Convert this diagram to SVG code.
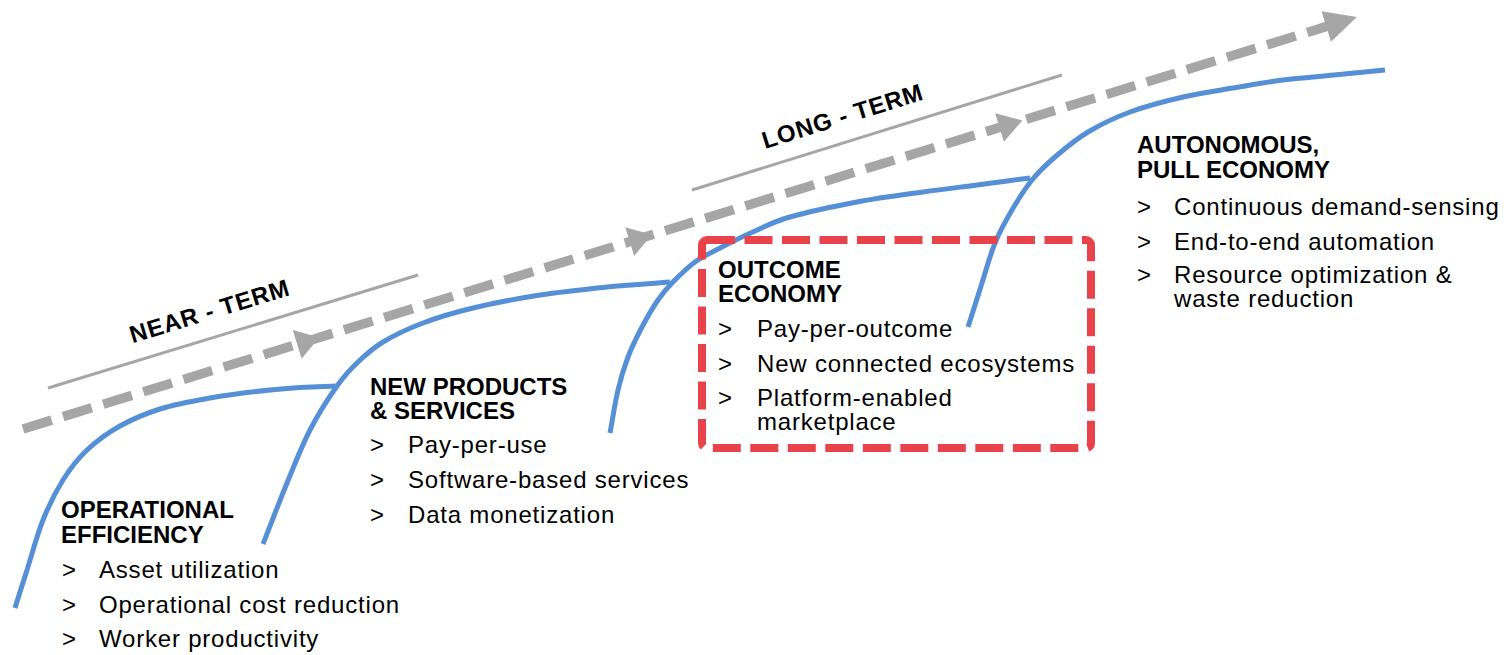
<svg xmlns="http://www.w3.org/2000/svg" width="1510" height="655" viewBox="0 0 1510 655">
<style>
  text { font-family: "Liberation Sans", Arial, sans-serif; fill: #000; }
  .h { font-size: 24px; font-weight: bold; }
  .b { font-size: 24px; letter-spacing: 0.8px; }
  .lbl { font-size: 24px; font-weight: bold; letter-spacing: 0.8px; text-anchor: middle; }
  .curve { fill: none; stroke: #5590d6; stroke-width: 5; }
  .guide { stroke: #a6a6a6; stroke-width: 3; fill: none; }
  .dash { stroke: #a6a6a6; stroke-width: 9.5; stroke-dasharray: 30 12; fill: none; }
  .head { fill: #a6a6a6; }
  .box { fill: none; stroke: #e8424b; stroke-width: 8; stroke-dasharray: 28 9.5; }
</style>
<rect width="1510" height="655" fill="#fff"/>

<g id="connectors">
  <g id="timeline-arrow" transform="translate(23,429) rotate(-17.16)">
    <line class="dash" x1="0" y1="0" x2="1368" y2="0"/>
    <polygon class="head" points="287,-15 310,0 287,15"/>
    <polygon class="head" points="635,-15 658,0 635,15"/>
    <polygon class="head" points="1022,-15 1046,0 1022,15"/>
    <polygon class="head" points="1364,-16 1396,0 1364,16"/>
  </g>
  <line class="guide" x1="48" y1="388" x2="418" y2="275"/>
  <line class="guide" x1="692" y1="190" x2="1062" y2="75"/>
  <path id="curve-1" class="curve" d="M15,608 C19,595.3 22.3,584.7 27,570 C31.7,555.3 37,535 43,520 C49,505 55.7,491.7 63,480 C70.3,468.3 77.5,459 87,450 C96.5,441 107.8,432.8 120,426 C132.2,419.2 145,413.7 160,409 C175,404.3 191.7,401.2 210,398 C228.3,394.8 249.2,392.2 270,390 C290.8,387.8 313.3,386.7 337,386"/>
  <path id="curve-2" class="curve" d="M263,544 C271,523.7 279.2,502 287,483 C294.8,464 301.7,446.2 310,430 C318.3,413.8 329,397.3 337,386 C345,374.7 350.3,369.3 358,362 C365.7,354.7 372.2,348.5 383,342 C393.8,335.5 408,328.7 423,323 C438,317.3 453.5,312.7 473,308 C492.5,303.3 517.7,298.5 540,295 C562.3,291.5 585.3,289.2 607,287 C628.7,284.8 649,283.7 670,282"/>
  <path id="curve-3" class="curve" d="M610,433 C612.7,418.7 615,402.7 618,390 C621,377.3 624,367.5 628,357 C632,346.5 637,336.5 642,327 C647,317.5 653,307.3 658,300 C663,292.7 665.8,289.3 672,283 C678.2,276.7 686.7,268 695,262 C703.3,256 712,252.2 722,247 C732,241.8 743.7,236 755,231 C766.3,226 773,221.8 790,217 C807,212.2 834.8,206.2 857,202 C879.2,197.8 903,194.8 923,192 C943,189.2 959.2,187.3 977,185 C994.8,182.7 1012.3,180.3 1030,178"/>
  <path id="curve-4" class="curve" d="M968,327 C972.7,312.3 977.5,297 982,283 C986.5,269 990,255.2 995,243 C1000,230.8 1005.8,220.5 1012,210 C1018.2,199.5 1024.8,188.8 1032,180 C1039.2,171.2 1045.7,165 1055,157 C1064.3,149 1075.5,139.5 1088,132 C1100.5,124.5 1114.2,117.8 1130,112 C1145.8,106.2 1165.8,101 1183,97 C1200.2,93 1216.3,90.8 1233,88 C1249.7,85.2 1266.2,82.2 1283,80 C1299.8,77.8 1317,76.7 1334,75 C1351,73.3 1368,71.7 1385,70"/>
</g>

<g id="near-term">
  <text class="lbl" transform="translate(212,319) rotate(-17)">NEAR - TERM</text>
</g>
<g id="long-term">
  <text class="lbl" transform="translate(845,124) rotate(-17.3)">LONG - TERM</text>
</g>

<g id="operational-efficiency">
  <text class="h" x="61" y="518">OPERATIONAL</text>
  <text class="h" x="61" y="543">EFFICIENCY</text>
  <text class="b" x="62" y="578">&gt;</text><text class="b" x="99" y="578">Asset utilization</text>
  <text class="b" x="62" y="613">&gt;</text><text class="b" x="99" y="613">Operational cost reduction</text>
  <text class="b" x="62" y="647">&gt;</text><text class="b" x="99" y="647">Worker productivity</text>
</g>

<g id="new-products-services">
  <text class="h" x="370" y="395">NEW PRODUCTS</text>
  <text class="h" x="370" y="419">&amp; SERVICES</text>
  <text class="b" x="370" y="453">&gt;</text><text class="b" x="408" y="453">Pay-per-use</text>
  <text class="b" x="370" y="488">&gt;</text><text class="b" x="408" y="488">Software-based services</text>
  <text class="b" x="370" y="523">&gt;</text><text class="b" x="408" y="523">Data monetization</text>
</g>

<g id="outcome-economy">
  <rect class="box" x="702" y="240" width="389" height="208" rx="5"/>
  <text class="h" x="718" y="278">OUTCOME</text>
  <text class="h" x="718" y="302">ECONOMY</text>
  <text class="b" x="718" y="337">&gt;</text><text class="b" x="757" y="337">Pay-per-outcome</text>
  <text class="b" x="718" y="372">&gt;</text><text class="b" x="757" y="372">New connected ecosystems</text>
  <text class="b" x="718" y="406">&gt;</text><text class="b" x="757" y="406">Platform-enabled</text>
  <text class="b" x="757" y="430">marketplace</text>
</g>

<g id="autonomous-pull-economy">
  <text class="h" x="1137" y="153">AUTONOMOUS,</text>
  <text class="h" x="1137" y="178">PULL ECONOMY</text>
  <text class="b" x="1137" y="215">&gt;</text><text class="b" x="1174" y="215">Continuous demand-sensing</text>
  <text class="b" x="1137" y="250">&gt;</text><text class="b" x="1174" y="250">End-to-end automation</text>
  <text class="b" x="1137" y="283">&gt;</text><text class="b" x="1174" y="283">Resource optimization &amp;</text>
  <text class="b" x="1174" y="307">waste reduction</text>
</g>
</svg>
